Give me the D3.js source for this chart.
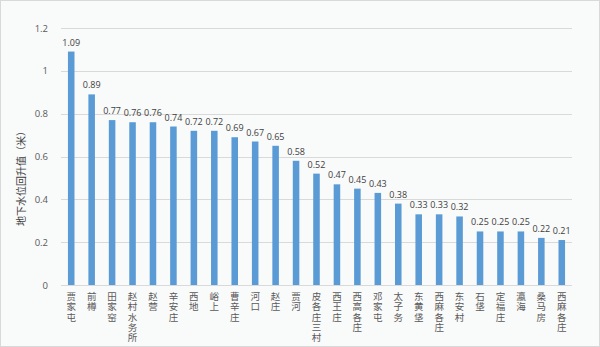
<!DOCTYPE html>
<html><head><meta charset="utf-8">
<script src="https://cdn.jsdelivr.net/npm/d3@7"></script>
<style>body{margin:0;background:#fff}svg{display:block}</style>
</head><body>
<svg id="c" width="600" height="347"></svg>
<script>
const categories = ["贾家屯","前樽","田家窑","赵村水务所","赵营","辛安庄","西地","峪上","曹辛庄","河口","赵庄","贾河","皮各庄三村","西王庄","西高各庄","邓家屯","太子务","东黄垡","西麻各庄","东安村","石垡","定福庄","瀛海","桑马房","西麻各庄"];
const values = [1.09,0.89,0.77,0.76,0.76,0.74,0.72,0.72,0.69,0.67,0.65,0.58,0.52,0.47,0.45,0.43,0.38,0.33,0.33,0.32,0.25,0.25,0.25,0.22,0.21];
const yTicks = [0,0.2,0.4,0.6,0.8,1,1.2];
const yTitle = "地下水位回升值（米）";

const svg = d3.select("#c");
const W = 600, H = 347;
const font = "'Noto Sans CJK SC',sans-serif";
svg.append("rect").attr("x",0.5).attr("y",0.5).attr("width",W-1).attr("height",H-1)
  .attr("fill","#f9fafa").attr("stroke","#d9d9d9");

const idx = categories.map((d,i)=>i);
const x = d3.scaleBand().domain(idx).range([61,572]).paddingInner(0.68).paddingOuter(0.34);
const y = d3.scaleLinear().domain([0,1.2]).range([285,28]);

const g = svg.append("g");
g.selectAll("line.grid").data(yTicks).join("line").attr("class","grid")
  .attr("x1",61).attr("x2",572).attr("y1",d=>Math.round(y(d))+0.5).attr("y2",d=>Math.round(y(d))+0.5)
  .attr("stroke","#d9d9d9").attr("stroke-width",1);

const yAxis = d3.axisLeft(y).tickValues(yTicks).tickSize(0).tickPadding(13).tickFormat(d=>String(d));
const ya = svg.append("g").attr("transform","translate(61,0)").call(yAxis);
ya.select(".domain").remove();
ya.selectAll("text").attr("fill","#595959").style("font-size","9.5px").style("font-family","'Open Sans',sans-serif");

g.selectAll("rect.bar").data(values).join("rect").attr("class","bar")
  .attr("x",(d,i)=>x(i)).attr("width",x.bandwidth())
  .attr("y",d=>y(d)).attr("height",d=>y(0)-y(d)).attr("fill","#5b9bd5");

g.selectAll("text.val").data(values).join("text").attr("class","val")
  .attr("x",(d,i)=>x(i)+x.bandwidth()/2).attr("y",d=>y(d)-6)
  .attr("text-anchor","middle").attr("fill","#404040")
  .style("font-size","9px").style("font-family","'Open Sans',sans-serif")
  .text(d=>d3.format(".2f")(d));

const cats = svg.append("g").selectAll("text.cat").data(categories).join("text").attr("class","cat")
  .attr("text-anchor","middle").attr("fill","#595959")
  .style("font-size","9.5px").style("font-family",font);
cats.each(function(d,i){
  const cx = x(i)+x.bandwidth()/2;
  d3.select(this).selectAll("tspan").data(Array.from(d)).join("tspan")
    .attr("x",cx).attr("y",(ch,j)=>300+j*10.3).text(ch=>ch);
});

svg.append("text").attr("transform","translate(25,176) rotate(-90)")
  .attr("text-anchor","middle").attr("fill","#404040")
  .style("font-size","10px").style("font-family",font).text(yTitle);
</script>
</body></html>
